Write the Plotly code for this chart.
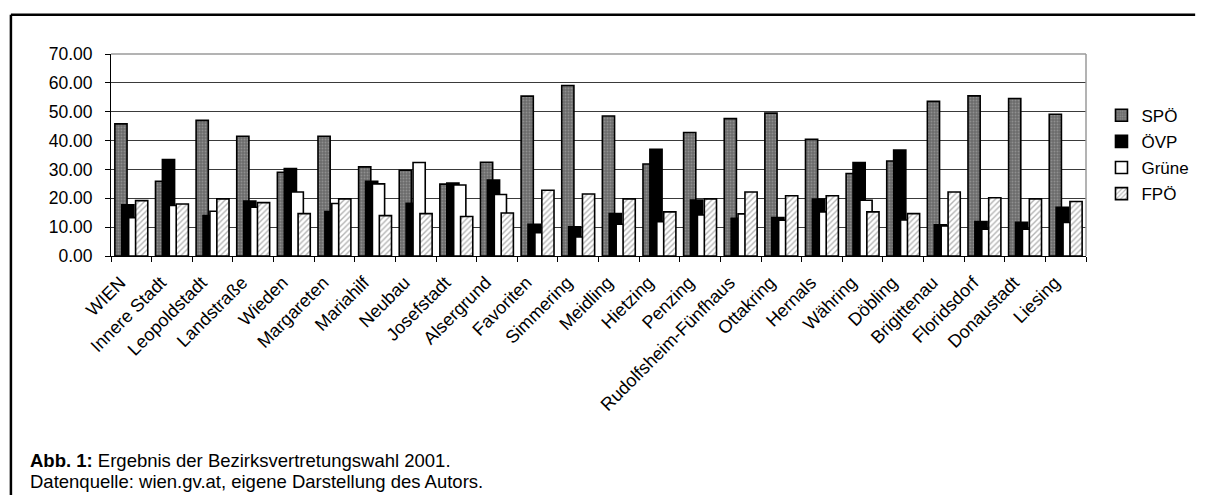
import plotly.graph_objects as go

districts = ["WIEN", "Innere Stadt", "Leopoldstadt", "Landstraße", "Wieden", "Margareten",
             "Mariahilf", "Neubau", "Josefstadt", "Alsergrund", "Favoriten", "Simmering",
             "Meidling", "Hietzing", "Penzing", "Rudolfsheim-Fünfhaus", "Ottakring", "Hernals",
             "Währing", "Döbling", "Brigittenau", "Floridsdorf", "Donaustadt", "Liesing"]

spoe = [45.8, 25.9, 47.0, 41.5, 29.0, 41.5, 30.9, 29.7, 24.9, 32.5, 55.4, 59.1,
        48.5, 31.9, 42.8, 47.6, 49.5, 40.4, 28.6, 32.9, 53.6, 55.5, 54.6, 49.1]
oevp = [17.7, 33.4, 14.0, 19.0, 30.3, 15.4, 25.9, 18.3, 25.3, 26.3, 11.0, 10.1,
        14.7, 37.0, 19.4, 13.1, 13.3, 19.7, 32.4, 36.7, 10.8, 11.9, 11.7, 16.9]
gruene = [13.3, 17.5, 15.5, 16.9, 22.2, 18.2, 25.0, 32.4, 24.6, 21.3, 8.1, 6.6,
          11.0, 11.9, 14.2, 14.6, 12.4, 15.3, 19.3, 12.5, 10.4, 9.3, 9.3, 11.6]
fpoe = [19.2, 18.0, 19.8, 18.5, 14.7, 19.8, 14.0, 14.7, 13.7, 14.9, 22.8, 21.5,
        19.8, 15.3, 19.8, 22.2, 20.9, 20.9, 15.3, 14.7, 22.2, 20.2, 19.8, 18.9]

series = [
    ("SPÖ", spoe, dict(color="#6e6e6e", pattern=dict(shape=".", fgcolor="#b4b4b4", bgcolor="#6a6a6a", size=3, solidity=0.35))),
    ("ÖVP", oevp, dict(color="#000000")),
    ("Grüne", gruene, dict(color="#ffffff")),
    ("FPÖ", fpoe, dict(color="#ffffff", pattern=dict(shape="/", fgcolor="#6a6a6a", bgcolor="#ffffff", size=4, solidity=0.35))),
]

W = 0.30
STEP = 0.17
START = -0.405

fig = go.Figure()
for i, (name, vals, mk) in enumerate(series):
    marker = dict(mk)
    marker["line"] = dict(color="black", width=1.6)
    fig.add_trace(go.Bar(x=districts, y=vals, name=name, width=W, offset=START + i * STEP,
                         marker=marker, legendgroup=name))

# page coordinates (the page body has an 8px margin)
OFF = 8
FW, FH = 1206 - OFF, 495 - OFF
L, R, T, B = 110.5, 1099.3, 54.3, 256.0
PW, PH = R - L, B - T

def px(xp):
    return (xp - L) / PW

def py(yp):
    return (B - yp) / PH

font = "Liberation Sans, Arial, sans-serif"
fig.update_layout(
    width=FW, height=FH,
    margin=dict(l=L - OFF, r=FW - (R - OFF), t=T - OFF, b=FH - (B - OFF), pad=0),
    barmode="overlay",
    paper_bgcolor="white", plot_bgcolor="white",
    font=dict(family=font, size=17, color="black"),
    showlegend=True,
    legend=dict(x=px(1115), y=py(98), xanchor="left", yanchor="top",
                font=dict(size=17, family=font), traceorder="grouped", tracegroupgap=1,
                bgcolor="rgba(0,0,0,0)", itemwidth=30),
    xaxis=dict(type="category", tickangle=-45, tickson="boundaries", ticks="outside",
               ticklen=5, tickcolor="black", showline=True, linecolor="black", linewidth=1,
               showgrid=False, tickfont=dict(size=18), ticklabelshift=-11,
               ticklabelstandoff=8),
    yaxis=dict(range=[0, 70], dtick=10, tickformat=".2f", ticks="outside", ticklen=5,
               tickcolor="black", showline=True, linecolor="black", linewidth=1,
               showgrid=True, gridcolor="#3a3a3a", gridwidth=1, zeroline=False,
               tickfont=dict(size=17.5), ticklabelstandoff=9),
    shapes=[
        dict(type="line", xref="paper", yref="paper", x0=1, x1=1, y0=0, y1=1,
             line=dict(color="#9a9a9a", width=1.5)),
        dict(type="line", xref="paper", yref="paper", x0=0, x1=1, y0=1, y1=1,
             line=dict(color="#9a9a9a", width=1.5)),
        dict(type="line", xref="paper", yref="paper", x0=px(9), x1=px(1210), y0=py(15), y1=py(15),
             line=dict(color="black", width=2.5)),
        dict(type="line", xref="paper", yref="paper", x0=px(9), x1=px(9), y0=py(15), y1=py(500),
             line=dict(color="black", width=2.5)),
    ],
    annotations=[
        dict(xref="paper", yref="paper", x=px(26), y=py(460), xanchor="left", yanchor="middle",
             text="<b>Abb. 1:</b> Ergebnis der Bezirksvertretungswahl 2001.", showarrow=False,
             font=dict(size=18.5, family=font)),
        dict(xref="paper", yref="paper", x=px(26), y=py(481), xanchor="left", yanchor="middle",
             text="Datenquelle: wien.gv.at, eigene Darstellung des Autors.", showarrow=False,
             font=dict(size=18.5, family=font)),
    ],
)

fig.write_html("out.html")
